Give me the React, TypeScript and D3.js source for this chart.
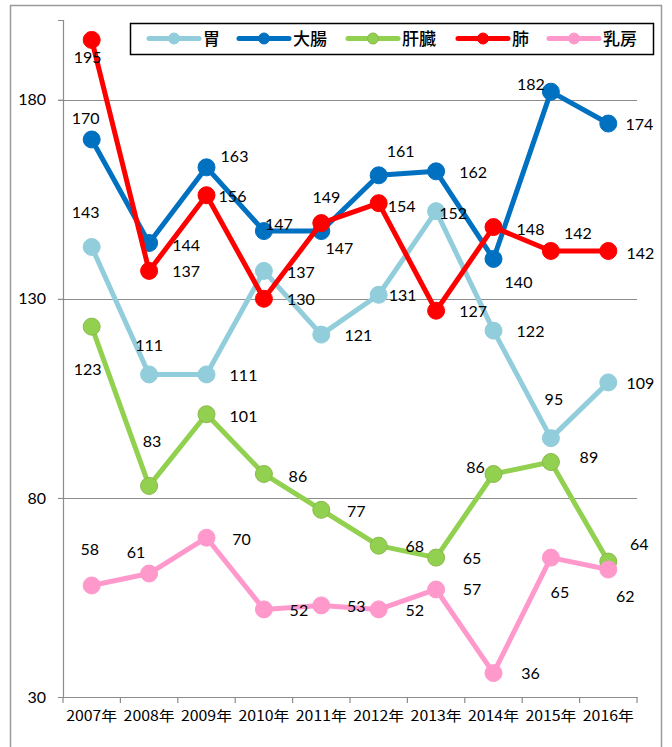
import React, { useEffect, useRef } from "react";
import * as d3 from "d3";

const W = 672;
const H = 747;
const PLOT = { LEFT: 63, RIGHT: 637, TOP: 20, BOTTOM: 697 };

const years = ["2007年", "2008年", "2009年", "2010年", "2011年", "2012年", "2013年", "2014年", "2015年", "2016年"];
const yTicks = [30, 80, 130, 180];

const stomach = [143, 111, 111, 137, 121, 131, 152, 122, 95, 109];
const colon = [170, 144, 163, 147, 147, 161, 162, 140, 182, 174];
const liver = [123, 83, 101, 86, 77, 68, 65, 86, 89, 64];
const lung = [195, 137, 156, 130, 149, 154, 127, 148, 142, 142];
const breast = [58, 61, 70, 52, 53, 52, 57, 36, 65, 62];

// label offsets from each point (dx, dy), as placed in the original
const stomachLabelPos = [[-6, -35], [0, -29], [37, 1], [37, 2], [37, 1], [24, 1], [17, 2], [37, 1], [3, -39], [32, 1]];
const colonLabelPos = [[-6, -21], [37, 2], [28, -11], [15, -7], [18, 17], [22, -24], [37, 1], [25, 23], [-20, -7], [31, 1]];
const liverLabelPos = [[-4, 43], [3, -45], [37, 2], [34, 2], [35, 2], [36, 1], [36, 1], [-18, -7], [38, -5], [31, -17]];
const lungLabelPos = [[-4, 17], [37, 1], [26, 1], [37, 1], [5, -26], [23, 3], [37, 1], [37, 2], [27, -18], [32, 2]];
const breastLabelPos = [[-2, -36], [-13, -21], [35, 2], [35, 1], [35, 1], [36, 1], [36, 0], [37, 0], [9, 35], [17, 27]];

const series = [
  { name: "胃", values: stomach, color: "#92CDDC", stroke: "#92CDDC", labels: stomachLabelPos },
  { name: "大腸", values: colon, color: "#0070C0", stroke: "#0070C0", labels: colonLabelPos },
  { name: "肝臓", values: liver, color: "#92D050", stroke: "#8AB84A", labels: liverLabelPos },
  { name: "肺", values: lung, color: "#FF0000", stroke: "#FF0000", labels: lungLabelPos },
  { name: "乳房", values: breast, color: "#FF99CC", stroke: "#FF99CC", labels: breastLabelPos },
];

const legendX = [149, 239, 348, 458, 549];

export default function App() {
  const ref = useRef<SVGSVGElement>(null);

  useEffect(() => {
    const svg = d3.select(ref.current);
    svg.selectAll("*").remove();

    const x = d3.scaleBand().domain(years).range([PLOT.LEFT, PLOT.RIGHT]);
    const y = d3.scaleLinear().domain([30, 200]).range([PLOT.BOTTOM, PLOT.TOP]);
    const cx = (i: number) => (x(years[i]) as number) + x.bandwidth() / 2;

    svg
      .append("rect")
      .attr("x", 10.5)
      .attr("y", 5.5)
      .attr("width", 651)
      .attr("height", 760)
      .attr("fill", "white")
      .attr("stroke", "#9a9a9a")
      .attr("stroke-width", 1.5);

    // gridlines
    svg
      .selectAll(".grid")
      .data(yTicks.filter((t) => t > 30))
      .enter()
      .append("line")
      .attr("x1", PLOT.LEFT - 5)
      .attr("x2", PLOT.RIGHT)
      .attr("y1", (d) => Math.round(y(d)) + 0.5)
      .attr("y2", (d) => Math.round(y(d)) + 0.5)
      .attr("stroke", "#8c8c8c")
      .attr("stroke-width", 1.2);

    // y axis
    const yAxis = d3.axisLeft(y).tickValues(yTicks).tickSize(5).tickPadding(12);
    const gy = svg.append("g").attr("transform", `translate(${PLOT.LEFT},0)`).call(yAxis);
    gy.select(".domain").attr("stroke", "#8c8c8c").attr("stroke-width", 1.2);
    gy.selectAll(".tick line").attr("stroke", "#8c8c8c");
    gy.selectAll(".tick text")
      .attr("font-family", "Lato, sans-serif")
      .attr("font-size", 16)
      .attr("fill", "#000");

    // x axis
    const xAxis = d3.axisBottom(x).tickSize(0).tickPadding(14);
    const gx = svg.append("g").attr("transform", `translate(0,${PLOT.BOTTOM})`).call(xAxis);
    gx.select(".domain").attr("stroke", "#8c8c8c").attr("stroke-width", 1.2);
    gx.selectAll(".tick text")
      .attr("font-family", "'Noto Sans CJK JP', sans-serif")
      .attr("font-size", 14)
      .attr("fill", "#000")
      .attr("textLength", 51)
      .attr("lengthAdjust", "spacingAndGlyphs");
    svg
      .selectAll(".xtick")
      .data(d3.range(years.length + 1))
      .enter()
      .append("line")
      .attr("x1", (i) => PLOT.LEFT + i * x.step())
      .attr("x2", (i) => PLOT.LEFT + i * x.step())
      .attr("y1", PLOT.BOTTOM)
      .attr("y2", PLOT.BOTTOM + 6)
      .attr("stroke", "#8c8c8c")
      .attr("stroke-width", 1.2);

    const line = d3
      .line<number>()
      .x((_, i) => cx(i))
      .y((d) => y(d));

    // lines & markers
    series.forEach((s) => {
      const g = svg.append("g");
      g.append("path")
        .attr("d", line(s.values))
        .attr("fill", "none")
        .attr("stroke", s.color)
        .attr("stroke-width", 5)
        .attr("stroke-linejoin", "round");
      g.selectAll("circle")
        .data(s.values)
        .enter()
        .append("circle")
        .attr("cx", (_, i) => cx(i))
        .attr("cy", (d) => y(d))
        .attr("r", 8.5)
        .attr("fill", s.color)
        .attr("stroke", s.stroke)
        .attr("stroke-width", 1);
    });

    // data labels
    series.forEach((s) => {
      svg
        .append("g")
        .selectAll("text")
        .data(s.values)
        .enter()
        .append("text")
        .attr("x", (_, i) => cx(i) + s.labels[i][0])
        .attr("y", (d, i) => y(d) + s.labels[i][1])
        .attr("dy", "0.35em")
        .attr("text-anchor", "middle")
        .attr("font-family", "Lato, sans-serif")
        .attr("font-size", 16)
        .attr("fill", "#000")
        .text((d) => d);
    });

    // legend
    svg
      .append("rect")
      .attr("x", 130.5)
      .attr("y", 23.5)
      .attr("width", 523)
      .attr("height", 31)
      .attr("fill", "white")
      .attr("stroke", "#000")
      .attr("stroke-width", 1.5);
    series.forEach((s, i) => {
      const lx = legendX[i];
      const g = svg.append("g");
      g.append("line")
        .attr("x1", lx)
        .attr("x2", lx + 50)
        .attr("y1", 38.5)
        .attr("y2", 38.5)
        .attr("stroke", s.color)
        .attr("stroke-width", 5)
        .attr("stroke-linecap", "round");
      g.append("circle")
        .attr("cx", lx + 25)
        .attr("cy", 38.5)
        .attr("r", 5.5)
        .attr("fill", s.color)
        .attr("stroke", s.stroke);
      g.append("text")
        .attr("x", lx + 54)
        .attr("y", 38.5)
        .attr("dy", "0.36em")
        .attr("font-family", "'Noto Sans CJK JP', sans-serif")
        .attr("font-size", 17)
        .attr("font-weight", 500)
        .attr("fill", "#000")
        .text(s.name);
    });
  }, []);

  return (
    <svg
      ref={ref}
      width={W}
      height={H}
      style={{ position: "absolute", left: 0, top: 0, background: "white" }}
    />
  );
}
